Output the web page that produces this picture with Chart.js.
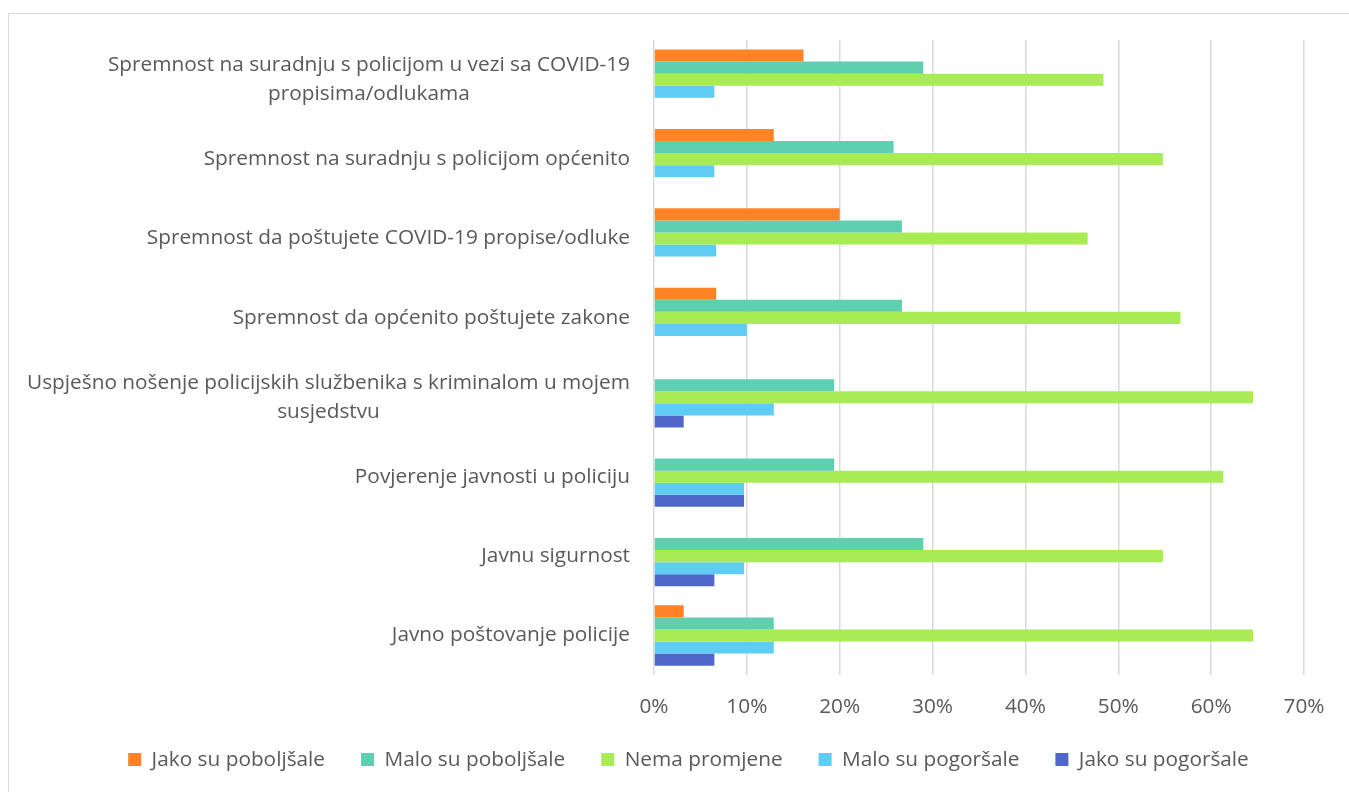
<!DOCTYPE html>
<html>
<head>
<meta charset="utf-8">
<script src="https://cdn.jsdelivr.net/npm/chart.js@4"></script>
<style>
  html, body { margin: 0; padding: 0; background: #fff; overflow: hidden; }
  #box {
    position: absolute; left: 8px; top: 13px;
    width: 1341px; height: 779px;
    border-left: 1px solid #d9d9d9; border-top: 1px solid #d9d9d9;
  }
</style>
</head>
<body>
<div id="box"><canvas id="chart" width="1341" height="779"></canvas></div>
<script>
// categories, top to bottom
const categories = [
  ['Spremnost na suradnju s policijom u vezi sa COVID-19', 'propisima/odlukama'],
  ['Spremnost na suradnju s policijom općenito'],
  ['Spremnost da poštujete COVID-19 propise/odluke'],
  ['Spremnost da općenito poštujete zakone'],
  ['Uspješno nošenje policijskih službenika s kriminalom u mojem', 'susjedstvu'],
  ['Povjerenje javnosti u policiju'],
  ['Javnu sigurnost'],
  ['Javno poštovanje policije']
];

const seriesNames = ['Jako su poboljšale', 'Malo su poboljšale', 'Nema promjene', 'Malo su pogoršale', 'Jako su pogoršale'];
const seriesColors = ['#FF8326', '#5ED0B0', '#A8EB54', '#5ECCF3', '#4F67C9'];

// values in percent
const jakoPoboljsale = [16.1, 12.9, 20.0, 6.7, 0, 0, 0, 3.2];
const maloPoboljsale = [29.0, 25.8, 26.7, 26.7, 19.4, 19.4, 29.0, 12.9];
const nemaPromjene   = [48.4, 54.8, 46.7, 56.7, 64.5, 61.3, 54.8, 64.5];
const maloPogorsale  = [6.5, 6.5, 6.7, 10.0, 12.9, 9.7, 9.7, 12.9];
const jakoPogorsale  = [0, 0, 0, 0, 3.2, 9.7, 6.5, 6.5];

const xTicks = [0, 10, 20, 30, 40, 50, 60, 70];

const seriesValues = [jakoPoboljsale, maloPoboljsale, nemaPromjene, maloPogorsale, jakoPogorsale];
const textColor = '#595959';
const fontFamily = '"Open Sans", sans-serif';
const fontSize = 20.8;

// draws the category labels, lines centred on each other, block right-aligned
const categoryLabels = {
  id: 'categoryLabels',
  afterDraw(chart) {
    const ctx = chart.ctx;
    const yScale = chart.scales.y;
    const right = chart.chartArea.left - 24;
    const lineH = 29;
    ctx.save();
    ctx.font = fontSize + 'px ' + fontFamily;
    ctx.fillStyle = textColor;
    ctx.textAlign = 'center';
    ctx.textBaseline = 'middle';
    categories.forEach((lines, i) => {
      const w = Math.max(...lines.map(l => ctx.measureText(l).width));
      const cx = right - w / 2;
      const yc = yScale.getPixelForTick(i);
      lines.forEach((l, j) => {
        ctx.fillText(l, cx, yc + (j - (lines.length - 1) / 2) * lineH);
      });
    });
    ctx.restore();
  }
};

new Chart(document.getElementById('chart'), {
  type: 'bar',
  data: {
    labels: categories.map(c => c.join(' ')),
    datasets: seriesNames.map((name, i) => ({
      label: name,
      data: seriesValues[i],
      backgroundColor: seriesColors[i],
      borderWidth: 0,
      categoryPercentage: 0.76,
      barPercentage: 1.0
    }))
  },
  options: {
    indexAxis: 'y',
    responsive: false,
    animation: false,
    layout: { padding: { left: 64, right: 46, top: 26, bottom: 13 } },
    plugins: {
      legend: {
        position: 'bottom',
        labels: {
          boxWidth: 13,
          boxHeight: 13,
          padding: 36,
          color: textColor,
          font: { size: fontSize, family: fontFamily }
        }
      },
      tooltip: { enabled: false }
    },
    scales: {
      x: {
        min: 0,
        max: 70,
        afterBuildTicks: scale => { scale.ticks = xTicks.map(v => ({ value: v })); },
        afterFit: scale => { scale.height = 38; },
        ticks: {
          padding: 19,
          color: textColor,
          font: { size: fontSize, family: fontFamily },
          callback: v => v + '%'
        },
        grid: { color: '#d9d9d9', lineWidth: 1.5, drawTicks: false },
        border: { display: false }
      },
      y: {
        afterFit: scale => { scale.width = 581; },
        ticks: { display: false },
        grid: { display: false },
        border: { display: false }
      }
    }
  },
  plugins: [categoryLabels]
});
</script>
</body>
</html>
